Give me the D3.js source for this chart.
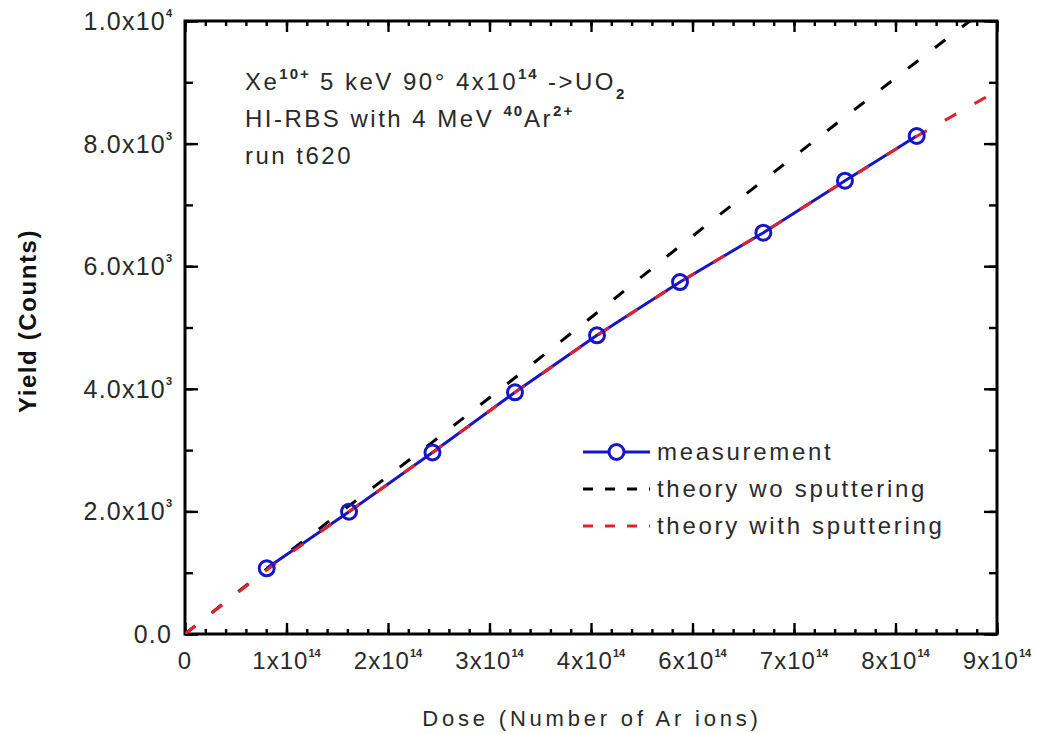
<!DOCTYPE html>
<html>
<head>
<meta charset="utf-8">
<script src="https://cdn.jsdelivr.net/npm/d3@7"></script>
<style>
  html, body { margin: 0; padding: 0; background: #fff; }
  svg { display: block; font-family: "Liberation Sans", Arial, sans-serif; }
</style>
</head>
<body>
<svg id="chart" width="1038" height="733"></svg>
<script>
// ---- data (dose in units of 1e14 ions on the drawn axis) ----
const measDose = [0.805, 1.616, 2.438, 3.251, 4.059, 4.877, 5.698, 6.502, 7.209];
const measYield = [1072, 1995, 2961, 3943, 4873, 5742, 6547, 7395, 8124];

const theoryDose = [0, 0.805, 1.616, 2.438, 3.251, 4.059, 4.877, 5.698, 6.502, 7.209, 8.0];
const theoryNoSputter = [0, 1060, 2090, 3130, 4180, 5240, 6330, 7400, 8435, 9336, 10340];
const theorySputter = [0, 1045, 1995, 2960, 3940, 4870, 5740, 6550, 7390, 8120, 8860];

const xTickValues = [0, 1, 2, 3, 4, 5, 6, 7, 8];
const xTickMantissa = ["0", "1x10", "2x10", "3x10", "4x10", "6x10", "7x10", "8x10", "9x10"];
const xTickExponent = ["", "14", "14", "14", "14", "14", "14", "14", "14"];

const yTickValues = [0, 2000, 4000, 6000, 8000, 10000];
const yTickMantissa = ["0.0", "2.0x10", "4.0x10", "6.0x10", "8.0x10", "1.0x10"];
const yTickExponent = ["", "3", "3", "3", "3", "4"];

const legendLabels = ["measurement", "theory wo sputtering", "theory with sputtering"];

// ---- layout ----
const svg = d3.select("#chart");
const L = 185, R = 997, T = 21, B = 634;
const x = d3.scaleLinear().domain([0, 8]).range([L, R]);
const y = d3.scaleLinear().domain([0, 10000]).range([B, T]);

const textColor = "#2a2a2a";
const blue = "#1616c8";
const red = "#e3222c";

svg.append("defs").append("clipPath").attr("id", "plotclip")
  .append("rect").attr("x", L).attr("y", T).attr("width", R - L).attr("height", B - T);

// ---- axes with inward ticks ----
const xMinor = d3.range(0, 8.0001, 0.2);
const yMinor = d3.range(0, 10001, 1000);

function drawTicks(g, axisGen) {
  g.call(axisGen); g.select(".domain").remove(); g.selectAll("text").remove();
  g.selectAll("line").attr("stroke", "#000").attr("stroke-width", 2.4);
}
svg.append("g").attr("transform", `translate(0,${B})`).call(g => drawTicks(g, d3.axisTop(x).tickValues(xMinor).tickSize(5)));
svg.append("g").attr("transform", `translate(0,${B})`).call(g => drawTicks(g, d3.axisTop(x).tickValues(xTickValues).tickSize(11)));
svg.append("g").attr("transform", `translate(0,${T})`).call(g => drawTicks(g, d3.axisBottom(x).tickValues(xMinor).tickSize(5)));
svg.append("g").attr("transform", `translate(0,${T})`).call(g => drawTicks(g, d3.axisBottom(x).tickValues(xTickValues).tickSize(11)));
svg.append("g").attr("transform", `translate(${L},0)`).call(g => drawTicks(g, d3.axisRight(y).tickValues(yMinor).tickSize(8)));
svg.append("g").attr("transform", `translate(${L},0)`).call(g => drawTicks(g, d3.axisRight(y).tickValues(yTickValues).tickSize(13)));
svg.append("g").attr("transform", `translate(${R},0)`).call(g => drawTicks(g, d3.axisLeft(y).tickValues(yMinor).tickSize(8)));
svg.append("g").attr("transform", `translate(${R},0)`).call(g => drawTicks(g, d3.axisLeft(y).tickValues(yTickValues).tickSize(13)));

svg.append("rect").attr("x", L).attr("y", T).attr("width", R - L).attr("height", B - T)
  .attr("fill", "none").attr("stroke", "#000").attr("stroke-width", 3);

// ---- tick labels ----
const xl = svg.append("g").attr("font-size", 24).attr("fill", textColor).attr("letter-spacing", 1);
xTickValues.forEach((v, i) => {
  const t = xl.append("text").attr("x", x(v)).attr("y", 669).attr("text-anchor", "middle");
  t.append("tspan").text(xTickMantissa[i]);
  if (xTickExponent[i]) t.append("tspan").attr("font-size", 11).attr("font-weight", "bold").attr("dy", -12).attr("letter-spacing", 0).text(xTickExponent[i]);
});
const yl = svg.append("g").attr("font-size", 25).attr("fill", textColor).attr("letter-spacing", 1.2);
yTickValues.forEach((v, i) => {
  const t = yl.append("text").attr("x", 172).attr("y", y(v) + 9).attr("text-anchor", "end");
  t.append("tspan").text(yTickMantissa[i]);
  if (yTickExponent[i]) t.append("tspan").attr("font-size", 11).attr("font-weight", "bold").attr("dy", -13).attr("letter-spacing", 0).text(yTickExponent[i]);
});

// ---- axis titles ----
svg.append("text").attr("x", 592).attr("y", 726).attr("text-anchor", "middle")
  .attr("font-size", 22).attr("letter-spacing", 3.8).attr("fill", textColor)
  .text("Dose (Number of Ar ions)");
svg.append("text").attr("transform", `translate(36,321) rotate(-90)`).attr("text-anchor", "middle")
  .attr("font-size", 24).attr("font-weight", "bold").attr("letter-spacing", 1.6).attr("fill", "#111")
  .text("Yield (Counts)");

// ---- annotation ----
const ann = svg.append("g").attr("font-size", 24).attr("fill", textColor).attr("letter-spacing", 2.5);
function sup(t, s, dy) { return t.append("tspan").attr("font-size", 15).attr("font-weight", "bold").attr("letter-spacing", 2).attr("dy", dy).text(s); }
const a1 = ann.append("text").attr("x", 245).attr("y", 90);
a1.append("tspan").text("Xe");
sup(a1, "10+", -11);
a1.append("tspan").attr("dy", 11).text(" 5 keV 90° 4x10");
sup(a1, "14", -11);
a1.append("tspan").attr("dy", 11).text(" ->UO");
sup(a1, "2", 9);
const a2 = ann.append("text").attr("x", 245).attr("y", 127);
a2.append("tspan").text("HI-RBS with 4 MeV ");
sup(a2, "40", -11);
a2.append("tspan").attr("dy", 11).text("Ar");
sup(a2, "2+", -11);
ann.append("text").attr("x", 245).attr("y", 164).text("run t620");

// ---- series ----
const plot = svg.append("g").attr("clip-path", "url(#plotclip)");
const line = d3.line().x(d => x(d[0])).y(d => y(d[1]));

plot.append("path").datum(d3.zip(theoryDose, theoryNoSputter)).attr("d", line)
  .attr("fill", "none").attr("stroke", "#000").attr("stroke-width", 3).attr("stroke-dasharray", "13,21");
plot.append("path").datum(d3.zip(measDose, measYield)).attr("d", line)
  .attr("fill", "none").attr("stroke", blue).attr("stroke-width", 3);
plot.append("path").datum(d3.zip(theoryDose, theorySputter)).attr("d", line)
  .attr("fill", "none").attr("stroke", red).attr("stroke-width", 3).attr("stroke-dasharray", "13,21");
plot.selectAll("circle.m").data(d3.zip(measDose, measYield)).join("circle").attr("class", "m")
  .attr("cx", d => x(d[0])).attr("cy", d => y(d[1])).attr("r", 7.5)
  .attr("fill", "none").attr("stroke", blue).attr("stroke-width", 3);

// ---- legend ----
const lg = svg.append("g");
const lx0 = 583, lx1 = 650, ly0 = 452, ldy = 37;
lg.append("line").attr("x1", lx0).attr("x2", lx1).attr("y1", ly0).attr("y2", ly0).attr("stroke", blue).attr("stroke-width", 3);
lg.append("circle").attr("cx", (lx0 + lx1) / 2).attr("cy", ly0).attr("r", 7.5).attr("fill", "#fff").attr("stroke", blue).attr("stroke-width", 3);
lg.append("line").attr("x1", lx0).attr("x2", lx1).attr("y1", ly0 + ldy).attr("y2", ly0 + ldy).attr("stroke", "#000").attr("stroke-width", 3).attr("stroke-dasharray", "10,12");
lg.append("line").attr("x1", lx0).attr("x2", lx1).attr("y1", ly0 + 2 * ldy).attr("y2", ly0 + 2 * ldy).attr("stroke", red).attr("stroke-width", 3).attr("stroke-dasharray", "10,12");
legendLabels.forEach((s, i) => {
  lg.append("text").attr("x", 657).attr("y", ly0 + i * ldy + 8).attr("font-size", 24)
    .attr("letter-spacing", 2.7).attr("fill", textColor).text(s);
});
</script>
</body>
</html>
